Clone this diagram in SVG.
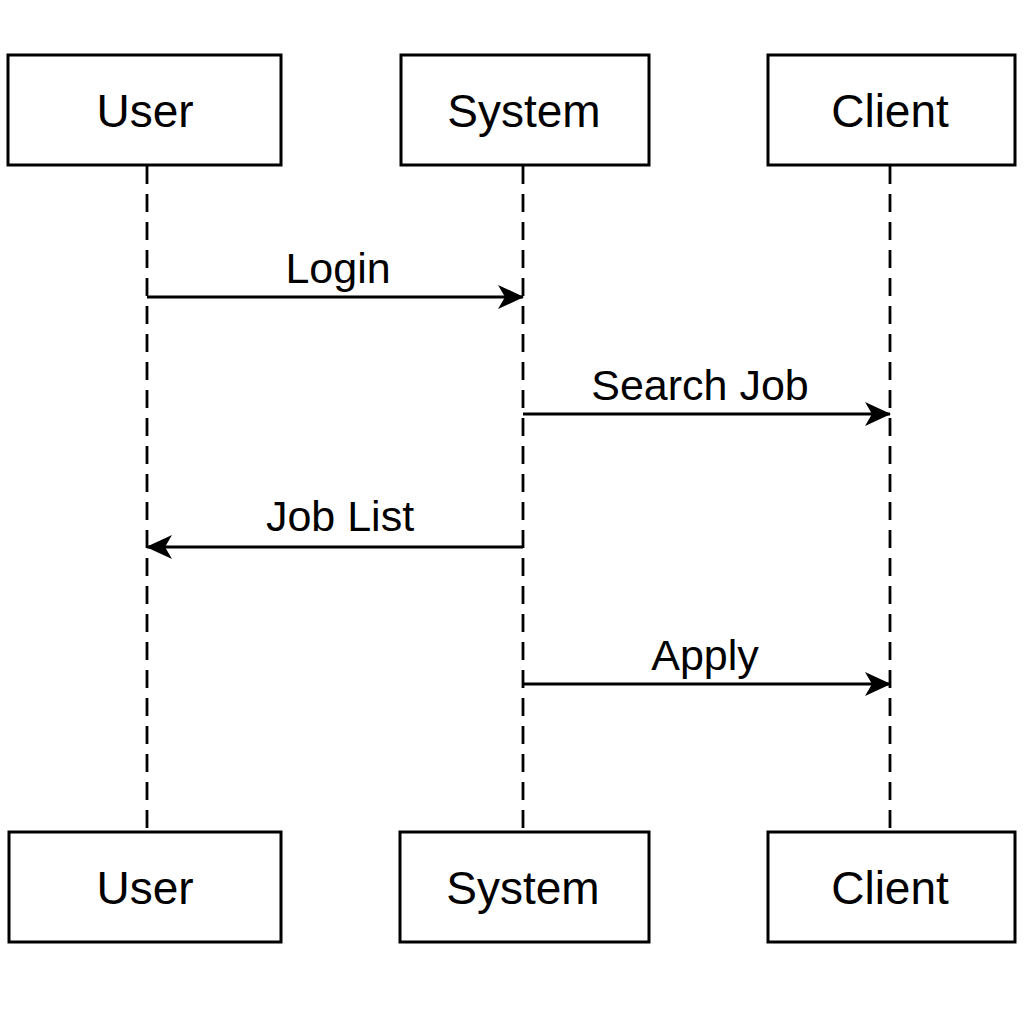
<svg xmlns="http://www.w3.org/2000/svg" width="1024" height="1024" viewBox="0 0 1024 1024">
<style>
.box{fill:#fff;stroke:#000;stroke-width:3}
.life{stroke:#000;stroke-width:2.8;stroke-dasharray:18 10;fill:none}
.msg{stroke:#000;stroke-width:2.8;fill:none}
.t{font-family:"Liberation Sans",Arial,sans-serif;font-size:46px;text-anchor:middle;fill:#000}
.l{font-family:"Liberation Sans",Arial,sans-serif;font-size:43px;text-anchor:middle;fill:#000}
</style>
<defs>
<marker id="ah" viewBox="0 0 26 24" refX="25" refY="12" markerWidth="26" markerHeight="24" markerUnits="userSpaceOnUse" orient="auto">
<path d="M0,0 L26,12 L0,24 L7,12 Z" fill="#000"/>
</marker>
</defs>
<rect width="1024" height="1024" fill="#fff"/>
<g id="lifelines">
<line class="life" x1="147" y1="166" x2="147" y2="832"/>
<line class="life" x1="523" y1="166" x2="523" y2="832"/>
<line class="life" x1="890" y1="166" x2="890" y2="832"/>
</g>
<g id="user-top"><rect class="box" x="8" y="55" width="273" height="110"/><text class="t" x="145" y="127">User</text></g>
<g id="system-top"><rect class="box" x="401" y="55" width="248" height="110"/><text class="t" x="524" y="127">System</text></g>
<g id="client-top"><rect class="box" x="768" y="55" width="247" height="110"/><text class="t" x="890" y="127">Client</text></g>
<g id="user-bottom"><rect class="box" x="9" y="832" width="272" height="110"/><text class="t" x="145" y="904">User</text></g>
<g id="system-bottom"><rect class="box" x="400" y="832" width="249" height="110"/><text class="t" x="523" y="904">System</text></g>
<g id="client-bottom"><rect class="box" x="768" y="832" width="247" height="110"/><text class="t" x="890" y="904">Client</text></g>
<g id="connectors">
<line class="msg" x1="147" y1="297" x2="523" y2="297" marker-end="url(#ah)"/>
<line class="msg" x1="523" y1="414" x2="890" y2="414" marker-end="url(#ah)"/>
<line class="msg" x1="523" y1="547" x2="147" y2="547" marker-end="url(#ah)"/>
<line class="msg" x1="523" y1="684" x2="890" y2="684" marker-end="url(#ah)"/>
<text class="l" x="338" y="283">Login</text>
<text class="l" x="700" y="400">Search Job</text>
<text class="l" x="340" y="531">Job List</text>
<text class="l" x="705" y="670">Apply</text>
</g>
</svg>
